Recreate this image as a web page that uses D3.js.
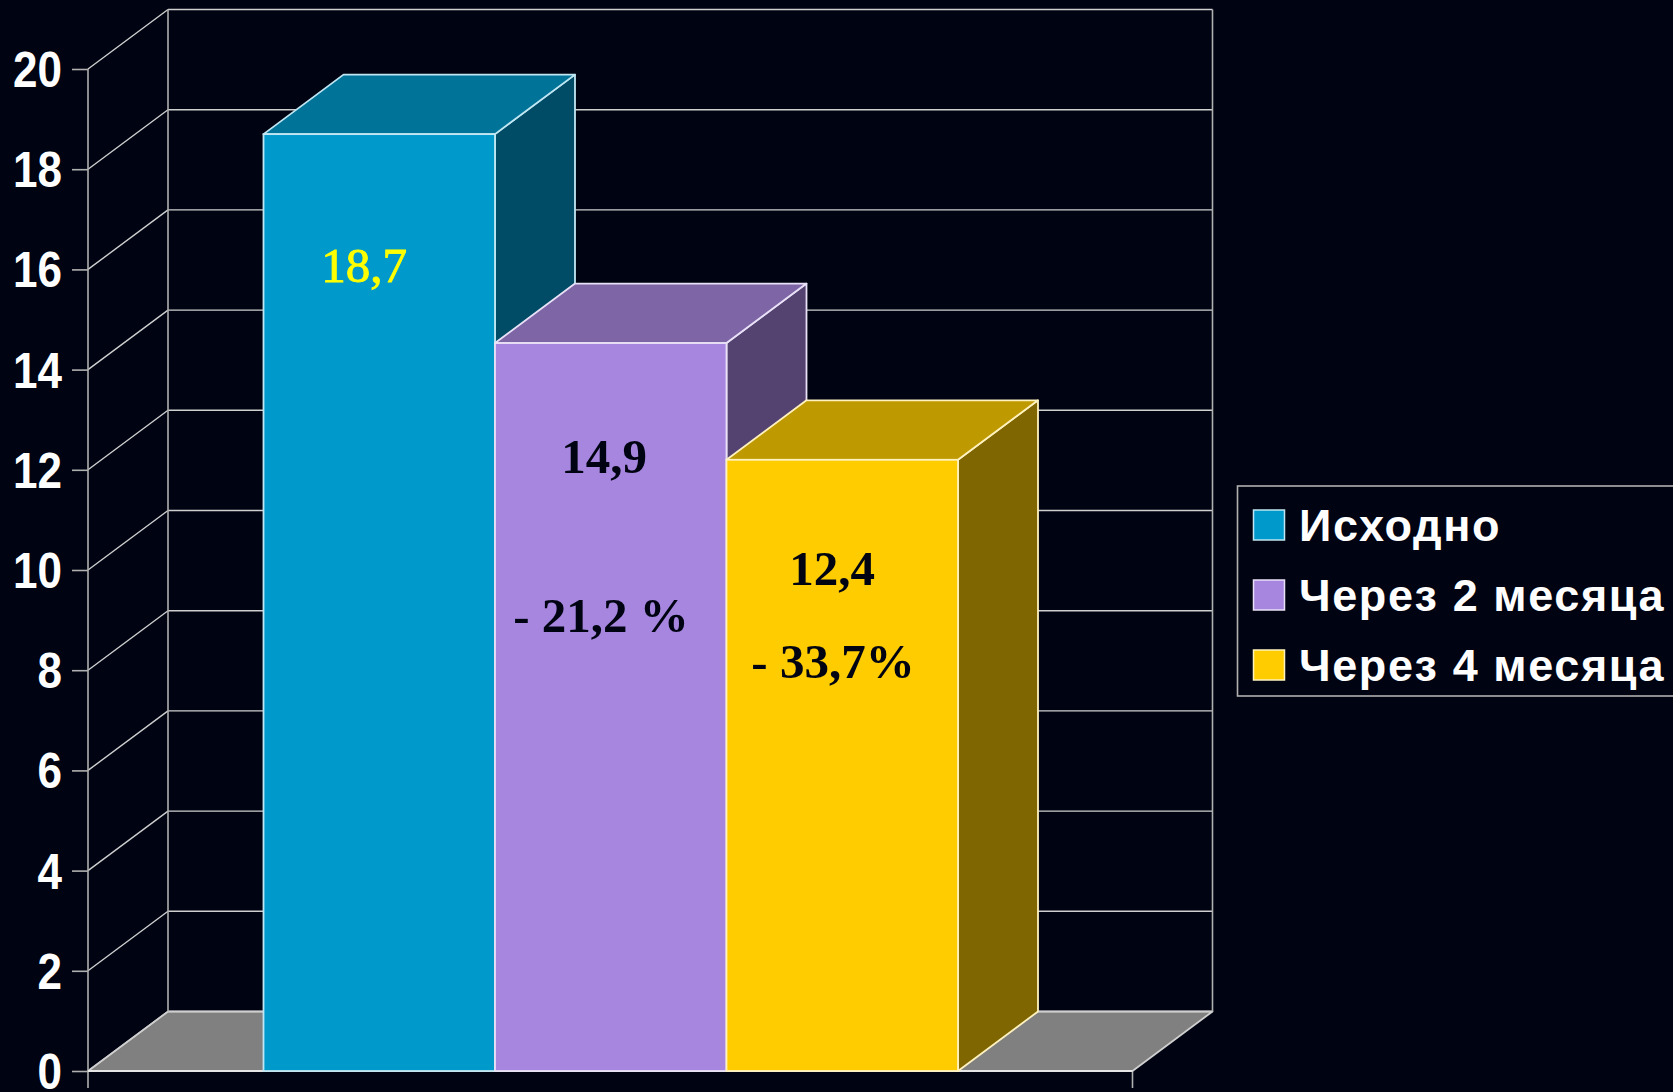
<!DOCTYPE html>
<html><head><meta charset="utf-8"><style>html,body{margin:0;padding:0;background:#000412;overflow:hidden}</style>
<script src="https://cdn.jsdelivr.net/npm/d3@7/dist/d3.min.js"></script></head><body><svg id="c" width="1673" height="1092"></svg>
<script>
const categories=["Исходно","Через 2 месяца","Через 4 месяца"];
const barValues=[18.7,14.53,12.2];
const frontColors=["#0099CC","#A686DE","#FFCC00"];
const topColors=["#007399","#7D65A6","#BF9900"];
const sideColors=["#004C66","#544370","#7F6600"];
const strokeColors=["#BFE6F2","#E9E1F7","#FFF2BF"];
const yTicks=[0,2,4,6,8,10,12,14,16,18,20];
const valueLabels=[
 {bar:0,text:"18,7",fill:"#FFFF00",cx:364,cy:282,weight:"normal",stroke:0.9},
 {bar:1,text:"14,9",fill:"#000412",cx:604,cy:473,weight:"bold",stroke:0},
 {bar:1,text:"- 21,2 %",fill:"#000412",cx:601,cy:632,weight:"bold",stroke:0},
 {bar:2,text:"12,4",fill:"#000412",cx:832,cy:585,weight:"bold",stroke:0},
 {bar:2,text:"- 33,7%",fill:"#000412",cx:833,cy:678,weight:"bold",stroke:0}];
const svg=d3.select("#c");
const D={x:80,y:-59.5};
const y=d3.scaleLinear().domain([0,20]).range([1071,69]);
const xPlot=d3.scaleLinear().domain([0,1]).range([88,1132.5]);
const xBar=d3.scaleBand().domain(categories).range([263.5,958]);
const line="#CFCFCF";
const poly=(g,pts,fill,stroke,sw)=>g.append("polygon").attr("points",pts.map(p=>p.join(",")).join(" ")).attr("fill",fill).attr("stroke",stroke||"none").attr("stroke-width",sw||0).attr("stroke-linejoin","round");
const x0=xPlot(0),x1=xPlot(1);
const g=svg.append("g");
poly(g,[[x0,y(0)],[x0+D.x,y(0)+D.y],[x1+D.x,y(0)+D.y],[x1,y(0)]],"#808080",line,1.8);
yTicks.forEach(t=>{
 g.append("line").attr("x1",x0).attr("y1",y(t)).attr("x2",x0+D.x).attr("y2",y(t)+D.y).attr("stroke",line).attr("stroke-width",1.4);
 g.append("line").attr("x1",x0+D.x).attr("y1",y(t)+D.y).attr("x2",x1+D.x).attr("y2",y(t)+D.y).attr("stroke",line).attr("stroke-width",1.4);
});
[x0+D.x,x1+D.x].forEach(v=>g.append("line").attr("x1",v).attr("x2",v).attr("y1",y(20)+D.y).attr("y2",y(0)+D.y).attr("stroke","#B0B0B0").attr("stroke-width",1.6));
const axis=g.append("g").attr("transform",`translate(${x0},0)`).call(d3.axisLeft(y).tickValues(yTicks).tickSize(16).tickPadding(0));
axis.select(".domain").remove();
axis.selectAll("line").attr("stroke","#B0B0B0").attr("stroke-width",1.6);
axis.selectAll("text").remove();
g.append("line").attr("x1",x0).attr("x2",x0).attr("y1",y(20)).attr("y2",1088).attr("stroke","#B0B0B0").attr("stroke-width",1.6);
g.append("line").attr("x1",x1).attr("x2",x1).attr("y1",y(0)).attr("y2",1088).attr("stroke","#B0B0B0").attr("stroke-width",1.6);
g.append("line").attr("x1",x0).attr("x2",x1).attr("y1",y(0)).attr("y2",y(0)).attr("stroke","#E5E5E5").attr("stroke-width",2);
yTicks.forEach(t=>g.append("text").text(t)
 .attr("transform",`translate(62,${y(t)+18}) scale(0.88,1)`)
 .attr("text-anchor","end").attr("font-family","Liberation Sans").attr("font-weight","bold").attr("font-size",50).attr("fill","#fff"));
categories.forEach((c,i)=>{
 const a=xBar(c),b=a+xBar.bandwidth(),t=y(barValues[i]),z=y(0),s=strokeColors[i];
 const bg=svg.append("g");
 poly(bg,[[b,z],[b+D.x,z+D.y],[b+D.x,t+D.y],[b,t]],sideColors[i],s,1.8);
 poly(bg,[[a,t],[a+D.x,t+D.y],[b+D.x,t+D.y],[b,t]],topColors[i],s,1.8);
 bg.append("rect").attr("x",a).attr("y",t).attr("width",xBar.bandwidth()).attr("height",z-t).attr("fill",frontColors[i]).attr("stroke",s).attr("stroke-width",1.8);
});
valueLabels.forEach(l=>svg.append("text").text(l.text).attr("x",l.cx).attr("y",l.cy).attr("text-anchor","middle")
 .attr("font-family","Liberation Serif").attr("font-weight",l.weight).attr("font-size",49).attr("fill",l.fill)
 .attr("stroke",l.fill).attr("stroke-width",l.stroke));
const leg=svg.append("g");
leg.append("rect").attr("x",1237.5).attr("y",486).attr("width",450).attr("height",210).attr("fill","none").attr("stroke","#B0B0B0").attr("stroke-width",1.6);
const yLeg=d3.scalePoint().domain(categories).range([525,665]);
categories.forEach((c,i)=>{
 leg.append("rect").attr("x",1253.5).attr("y",yLeg(c)-15).attr("width",31).attr("height",30).attr("fill",frontColors[i]).attr("stroke",strokeColors[i]).attr("stroke-width",1.5);
 leg.append("text").text(c).attr("x",1299).attr("y",yLeg(c)+16).attr("font-family","Liberation Sans").attr("font-weight","bold").attr("font-size",45).attr("letter-spacing",1.6).attr("fill","#fff");
});
</script></body></html>
